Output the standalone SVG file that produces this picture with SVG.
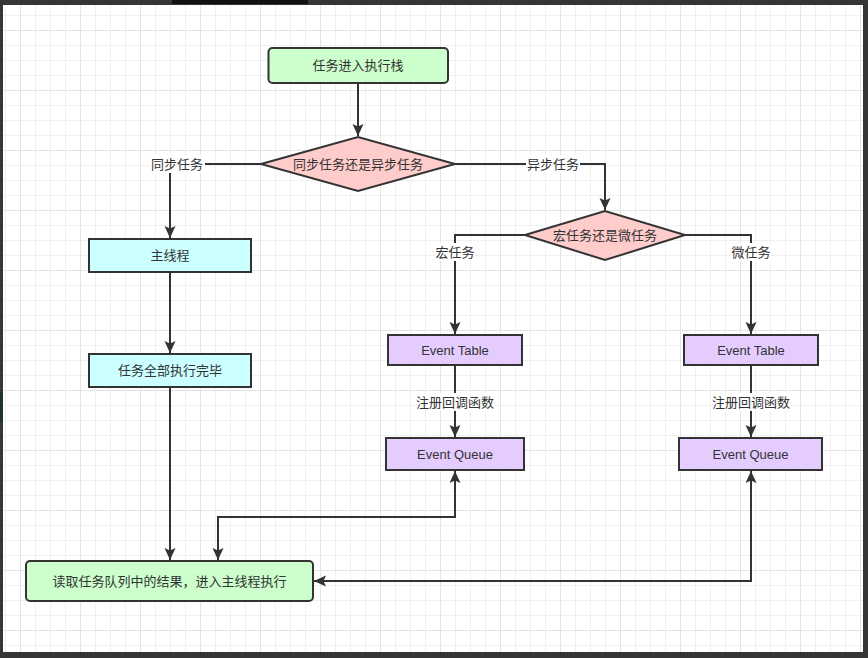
<svg xmlns="http://www.w3.org/2000/svg" width="868" height="658" viewBox="0 0 868 658">
<style>
.t{font-family:"Liberation Sans","Noto Sans CJK SC",sans-serif;font-size:13px;fill:#333;text-anchor:middle;dominant-baseline:central}
.box{stroke:#333;stroke-width:2}
.c{fill:none;stroke:#333;stroke-width:2}
.lb{fill:#fff}
</style>
<defs>
<pattern id="grid" patternUnits="userSpaceOnUse" x="20" y="30" width="60" height="60">
<path d="M15.5,0V60M30.5,0V60M45.5,0V60M0,15.5H60M0,30.5H60M0,45.5H60" stroke="#f0f0f0" stroke-width="1" fill="none"/>
<path d="M0.5,0V60M0,0.5H60" stroke="#e4e4e4" stroke-width="1" fill="none"/>
</pattern>
<marker id="ar" markerUnits="userSpaceOnUse" markerWidth="14" markerHeight="12" refX="12" refY="5.5" orient="auto-start-reverse">
<path d="M0,0 L12,5.5 L0,11 L2.5,5.5 Z" fill="#333"/>
</marker>
</defs>
<rect width="868" height="658" fill="#fff"/>
<rect width="868" height="658" fill="url(#grid)"/>
<g id="connectors">
<path class="c" d="M358,83V136" marker-end="url(#ar)"/>
<path class="c" d="M261,164H170V238" marker-end="url(#ar)"/>
<path class="c" d="M455,164H605V210" marker-end="url(#ar)"/>
<path class="c" d="M525,235H455V334" marker-end="url(#ar)"/>
<path class="c" d="M685,235H751V334" marker-end="url(#ar)"/>
<path class="c" d="M170,272V353" marker-end="url(#ar)"/>
<path class="c" d="M170,388V560" marker-end="url(#ar)"/>
<path class="c" d="M455,365V437" marker-end="url(#ar)"/>
<path class="c" d="M751,365V437" marker-end="url(#ar)"/>
<path class="c" d="M455,471V517H218V560" marker-start="url(#ar)" marker-end="url(#ar)"/>
<path class="c" d="M751,471V581H314" marker-start="url(#ar)" marker-end="url(#ar)"/>
<rect class="lb" x="150" y="155" width="55" height="18"/>
<text class="t" x="177" y="164">同步任务</text>
<rect class="lb" x="526" y="155" width="54" height="18"/>
<text class="t" x="553" y="164">异步任务</text>
<rect class="lb" x="435" y="243" width="40" height="18"/>
<text class="t" x="455" y="252">宏任务</text>
<rect class="lb" x="731" y="243" width="40" height="18"/>
<text class="t" x="751" y="252">微任务</text>
<rect class="lb" x="416" y="393" width="78" height="18"/>
<text class="t" x="455" y="402">注册回调函数</text>
<rect class="lb" x="712" y="393" width="78" height="18"/>
<text class="t" x="751" y="402">注册回调函数</text>
</g>
<g id="start">
<rect class="box" x="268.5" y="48" width="179.5" height="35" rx="4" fill="#ccffcc"/>
<text class="t" x="358" y="65.5">任务进入执行栈</text>
</g>
<g id="decision1">
<path class="box" d="M261,164L358,137L455,164L358,191Z" fill="#ffcccc"/>
<text class="t" x="358" y="164">同步任务还是异步任务</text>
</g>
<g id="decision2">
<path class="box" d="M525,235L605,211L685,235L605,260Z" fill="#ffcccc"/>
<text class="t" x="605" y="235">宏任务还是微任务</text>
</g>
<g id="mainThread">
<rect class="box" x="89" y="239" width="162" height="33" fill="#ccffff"/>
<text class="t" x="170" y="255.5">主线程</text>
</g>
<g id="allDone">
<rect class="box" x="89" y="354" width="162" height="33" fill="#ccffff"/>
<text class="t" x="170" y="370.5">任务全部执行完毕</text>
</g>
<g id="eventTable1">
<rect class="box" x="388" y="335" width="134" height="30" fill="#e5ccff"/>
<text class="t" x="455" y="350">Event Table</text>
</g>
<g id="eventQueue1">
<rect class="box" x="386" y="438" width="138" height="32" fill="#e5ccff"/>
<text class="t" x="455" y="454">Event Queue</text>
</g>
<g id="eventTable2">
<rect class="box" x="684" y="335" width="134" height="30" fill="#e5ccff"/>
<text class="t" x="751" y="350">Event Table</text>
</g>
<g id="eventQueue2">
<rect class="box" x="679" y="438" width="143" height="32" fill="#e5ccff"/>
<text class="t" x="750.5" y="454">Event Queue</text>
</g>
<g id="readQueue">
<rect class="box" x="26" y="561" width="287" height="40" rx="4" fill="#ccffcc"/>
<text class="t" x="169.5" y="581">读取任务队列中的结果，进入主线程执行</text>
</g>
<g id="frame">
<rect x="0" y="0" width="868" height="5" fill="#363636"/>
<rect x="172" y="0" width="136" height="4" fill="#111"/>
<rect x="0" y="0" width="3" height="658" fill="#363636"/>
<rect x="0" y="393" width="3" height="29" fill="#1f3326"/>
<rect x="863" y="0" width="5" height="658" fill="#363636"/>
<rect x="0" y="652" width="868" height="6" fill="#363636"/>
</g>
</svg>
